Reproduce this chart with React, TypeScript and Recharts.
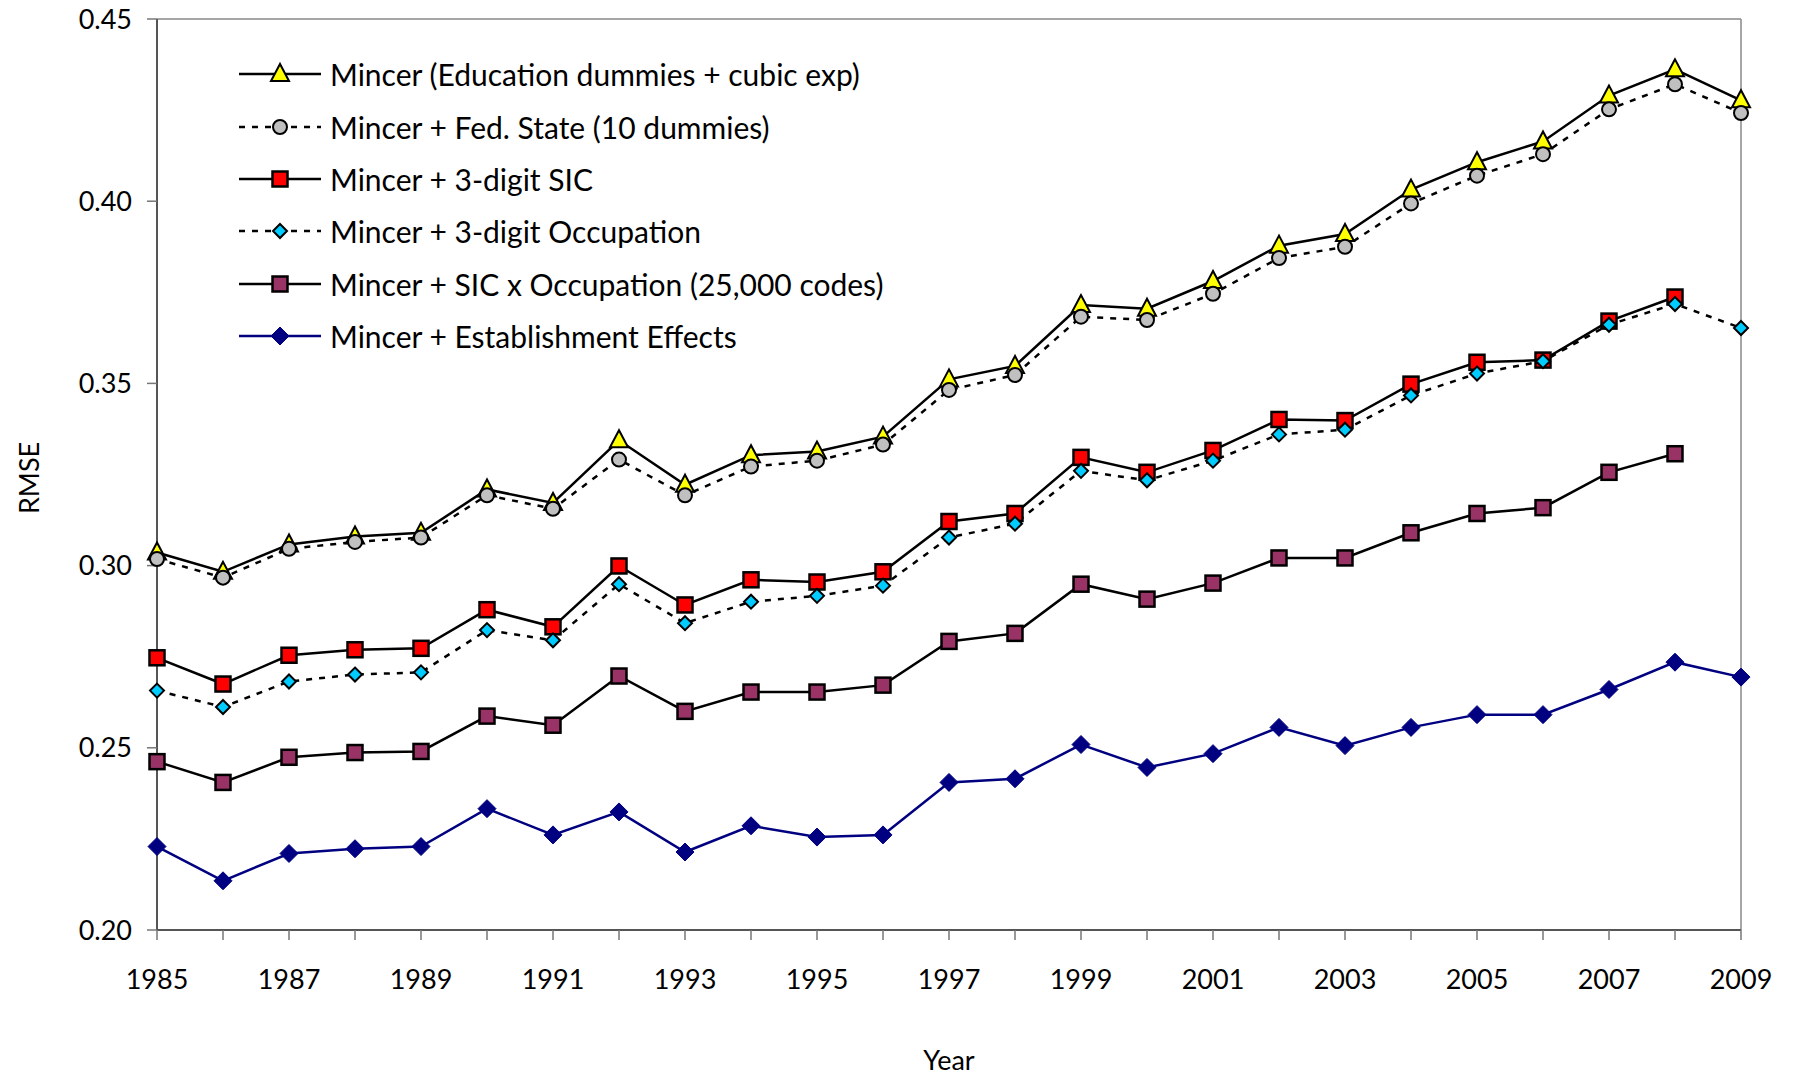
import { LineChart, Line, XAxis, YAxis, ReferenceLine } from 'recharts';

const years = [
  1985, 1986, 1987, 1988, 1989, 1990, 1991, 1992, 1993, 1994, 1995, 1996,
  1997, 1998, 1999, 2000, 2001, 2002, 2003, 2004, 2005, 2006, 2007, 2008, 2009,
];
const yTicks = [0.2, 0.25, 0.3, 0.35, 0.4, 0.45];

const mincer = [
  0.3036, 0.2983, 0.3058, 0.308, 0.309, 0.3209, 0.3172, 0.3344, 0.3222, 0.3303, 0.3313, 0.3354,
  0.3511, 0.3548, 0.3715, 0.3705, 0.3781, 0.3878, 0.391, 0.4032, 0.4107, 0.4164, 0.429, 0.4362, 0.4277,
];
const fedState = [
  0.3018, 0.2967, 0.3046, 0.3065, 0.3077, 0.3193, 0.3156, 0.3291, 0.3193, 0.3272, 0.3288, 0.3332,
  0.3482, 0.3523, 0.3683, 0.3674, 0.3746, 0.3844, 0.3875, 0.3994, 0.407, 0.4129, 0.4252, 0.4321, 0.4242,
];
const sic3 = [
  0.2747, 0.2675, 0.2754, 0.2769, 0.2773, 0.2879, 0.2832, 0.2999, 0.2892, 0.2961, 0.2955, 0.2983,
  0.3121, 0.3143, 0.3297, 0.3256, 0.3316, 0.3401, 0.3398, 0.3498, 0.3558, 0.3564, 0.3671, 0.3737, null,
];
const occ3 = [
  0.2657, 0.2612, 0.2682, 0.2701, 0.2707, 0.2823, 0.2795, 0.2949, 0.2842, 0.2901, 0.2917, 0.2945,
  0.3077, 0.3115, 0.326, 0.3234, 0.3288, 0.336, 0.3373, 0.3467, 0.3527, 0.3561, 0.3661, 0.3718, 0.3652,
];
const sicOcc = [
  0.2462, 0.2405, 0.2474, 0.2487, 0.249, 0.2587, 0.2562, 0.2697, 0.26, 0.2653, 0.2653, 0.2672,
  0.2792, 0.2814, 0.2949, 0.2908, 0.2952, 0.3021, 0.3021, 0.309, 0.3143, 0.3159, 0.3256, 0.3307, null,
];
const estab = [
  0.2229, 0.2135, 0.221, 0.2223, 0.2229, 0.2333, 0.2261, 0.2324, 0.2214, 0.2286, 0.2255, 0.2261,
  0.2405, 0.2415, 0.2509, 0.2446, 0.2484, 0.2556, 0.2506, 0.2556, 0.2591, 0.2591, 0.266, 0.2735, 0.2694,
];

const chartData = years.map((year, i) => ({
  year,
  mincer: mincer[i],
  fedState: fedState[i],
  sic3: sic3[i],
  occ3: occ3[i],
  sicOcc: sicOcc[i],
  estab: estab[i],
}));

const FONT = 'Lato, "DejaVu Sans", sans-serif';

type Shape = 'triangle' | 'circle' | 'square' | 'diamond' | 'bigDiamond';

function marker(shape: Shape, fill: string, stroke: string, cx: number, cy: number, key?: string | number) {
  if (shape === 'triangle') {
    return (
      <polygon key={key} points={`${cx},${cy - 10} ${cx - 9},${cy + 7} ${cx + 9},${cy + 7}`}
        fill={fill} stroke={stroke} strokeWidth={2} strokeLinejoin="miter" />
    );
  }
  if (shape === 'circle') {
    return <circle key={key} cx={cx} cy={cy} r={7} fill={fill} stroke={stroke} strokeWidth={2} />;
  }
  if (shape === 'square') {
    return <rect key={key} x={cx - 7.5} y={cy - 7.5} width={15} height={15} fill={fill} stroke={stroke} strokeWidth={2.5} />;
  }
  if (shape === 'diamond') {
    return (
      <polygon key={key} points={`${cx},${cy - 7} ${cx + 7},${cy} ${cx},${cy + 7} ${cx - 7},${cy}`}
        fill={fill} stroke={stroke} strokeWidth={2} />
    );
  }
  return (
    <polygon key={key} points={`${cx},${cy - 9} ${cx + 9},${cy} ${cx},${cy + 9} ${cx - 9},${cy}`}
      fill={fill} stroke={stroke} strokeWidth={1} />
  );
}

function dotFor(shape: Shape, fill: string, stroke: string) {
  return (props: any) => {
    const { cx, cy, value, index } = props;
    if (cx == null || cy == null || value == null) return <g key={`e-${index}`} />;
    return marker(shape, fill, stroke, cx, cy, `d-${index}`);
  };
}

const series = [
  { key: 'mincer', label: 'Mincer (Education dummies + cubic exp)', color: '#000', dash: undefined, shape: 'triangle' as Shape, fill: '#FFFF00', stroke: '#000' },
  { key: 'fedState', label: 'Mincer + Fed. State (10 dummies)', color: '#000', dash: '6 7', shape: 'circle' as Shape, fill: '#C0C0C0', stroke: '#000' },
  { key: 'sic3', label: 'Mincer + 3-digit SIC', color: '#000', dash: undefined, shape: 'square' as Shape, fill: '#FF0000', stroke: '#000' },
  { key: 'occ3', label: 'Mincer + 3-digit Occupation', color: '#000', dash: '6 7', shape: 'diamond' as Shape, fill: '#00CCFF', stroke: '#000' },
  { key: 'sicOcc', label: 'Mincer + SIC x Occupation (25,000 codes)', color: '#000', dash: undefined, shape: 'square' as Shape, fill: '#993366', stroke: '#000' },
  { key: 'estab', label: 'Mincer + Establishment Effects', color: '#000080', dash: undefined, shape: 'bigDiamond' as Shape, fill: '#000080', stroke: '#000080' },
];

function ChartLegend() {
  return (
    <div style={{ position: 'absolute', left: 239, top: 48, fontFamily: FONT, fontSize: 30, color: '#000' }}>
      {series.map((s) => (
        <div key={s.key} style={{ display: 'flex', alignItems: 'center', height: 52.4 }}>
          <svg width={84} height={30} style={{ display: 'block' }}>
            <line x1={0} y1={15} x2={82} y2={15} stroke={s.color} strokeWidth={2.5} strokeDasharray={s.dash} />
            {marker(s.shape, s.fill, s.stroke, 41, 15)}
          </svg>
          <span style={{ marginLeft: 7, whiteSpace: 'nowrap' }}>{s.label}</span>
        </div>
      ))}
    </div>
  );
}

export default function App() {
  return (
    <div style={{ position: 'absolute', left: 0, top: 0, width: 1793, height: 1078, background: '#fff' }}>
      <LineChart width={1793} height={1078} data={chartData} margin={{ top: 19, right: 52, bottom: 0, left: 0 }}>
        <XAxis
          dataKey="year"
          type="number"
          domain={[1985, 2009]}
          ticks={years}
          interval={0}
          tickFormatter={(v: number) => (v % 2 === 1 ? String(v) : '')}
          height={148}
          tickSize={10}
          tickMargin={30}
          stroke="#555"
          strokeWidth={2}
          tickLine={{ stroke: '#777', strokeWidth: 1.5 }}
          tick={{ fill: '#000', fontFamily: FONT, fontSize: 27 }}
          label={{
            content: () => (
              <text x={949} y={1070} textAnchor="middle" fontFamily={FONT} fontSize={27} fill="#000">
                Year
              </text>
            ),
          }}
        />
        <YAxis
          type="number"
          domain={[0.2, 0.45]}
          ticks={yTicks}
          tickFormatter={(v: number) => v.toFixed(2)}
          width={157}
          tickSize={10}
          tickMargin={15}
          stroke="#555"
          strokeWidth={2}
          tickLine={{ stroke: '#777', strokeWidth: 1.5 }}
          tick={{ fill: '#000', fontFamily: FONT, fontSize: 27 }}
          label={{
            content: () => (
              <text x={28} y={478} transform="rotate(-90 28 478)" textAnchor="middle" dominantBaseline="central"
                fontFamily={FONT} fontSize={27} fill="#000">
                RMSE
              </text>
            ),
          }}
        />
        <ReferenceLine y={0.45} stroke="#888" strokeWidth={1.5} />
        <ReferenceLine x={2009} stroke="#888" strokeWidth={1.5} />
        {series.map((s) => (
          <Line
            key={s.key}
            type="linear"
            dataKey={s.key}
            stroke={s.color}
            strokeWidth={2.5}
            strokeDasharray={s.dash}
            dot={dotFor(s.shape, s.fill, s.stroke)}
            activeDot={false}
            connectNulls={false}
            isAnimationActive={false}
          />
        ))}
      </LineChart>
      <ChartLegend />
    </div>
  );
}
